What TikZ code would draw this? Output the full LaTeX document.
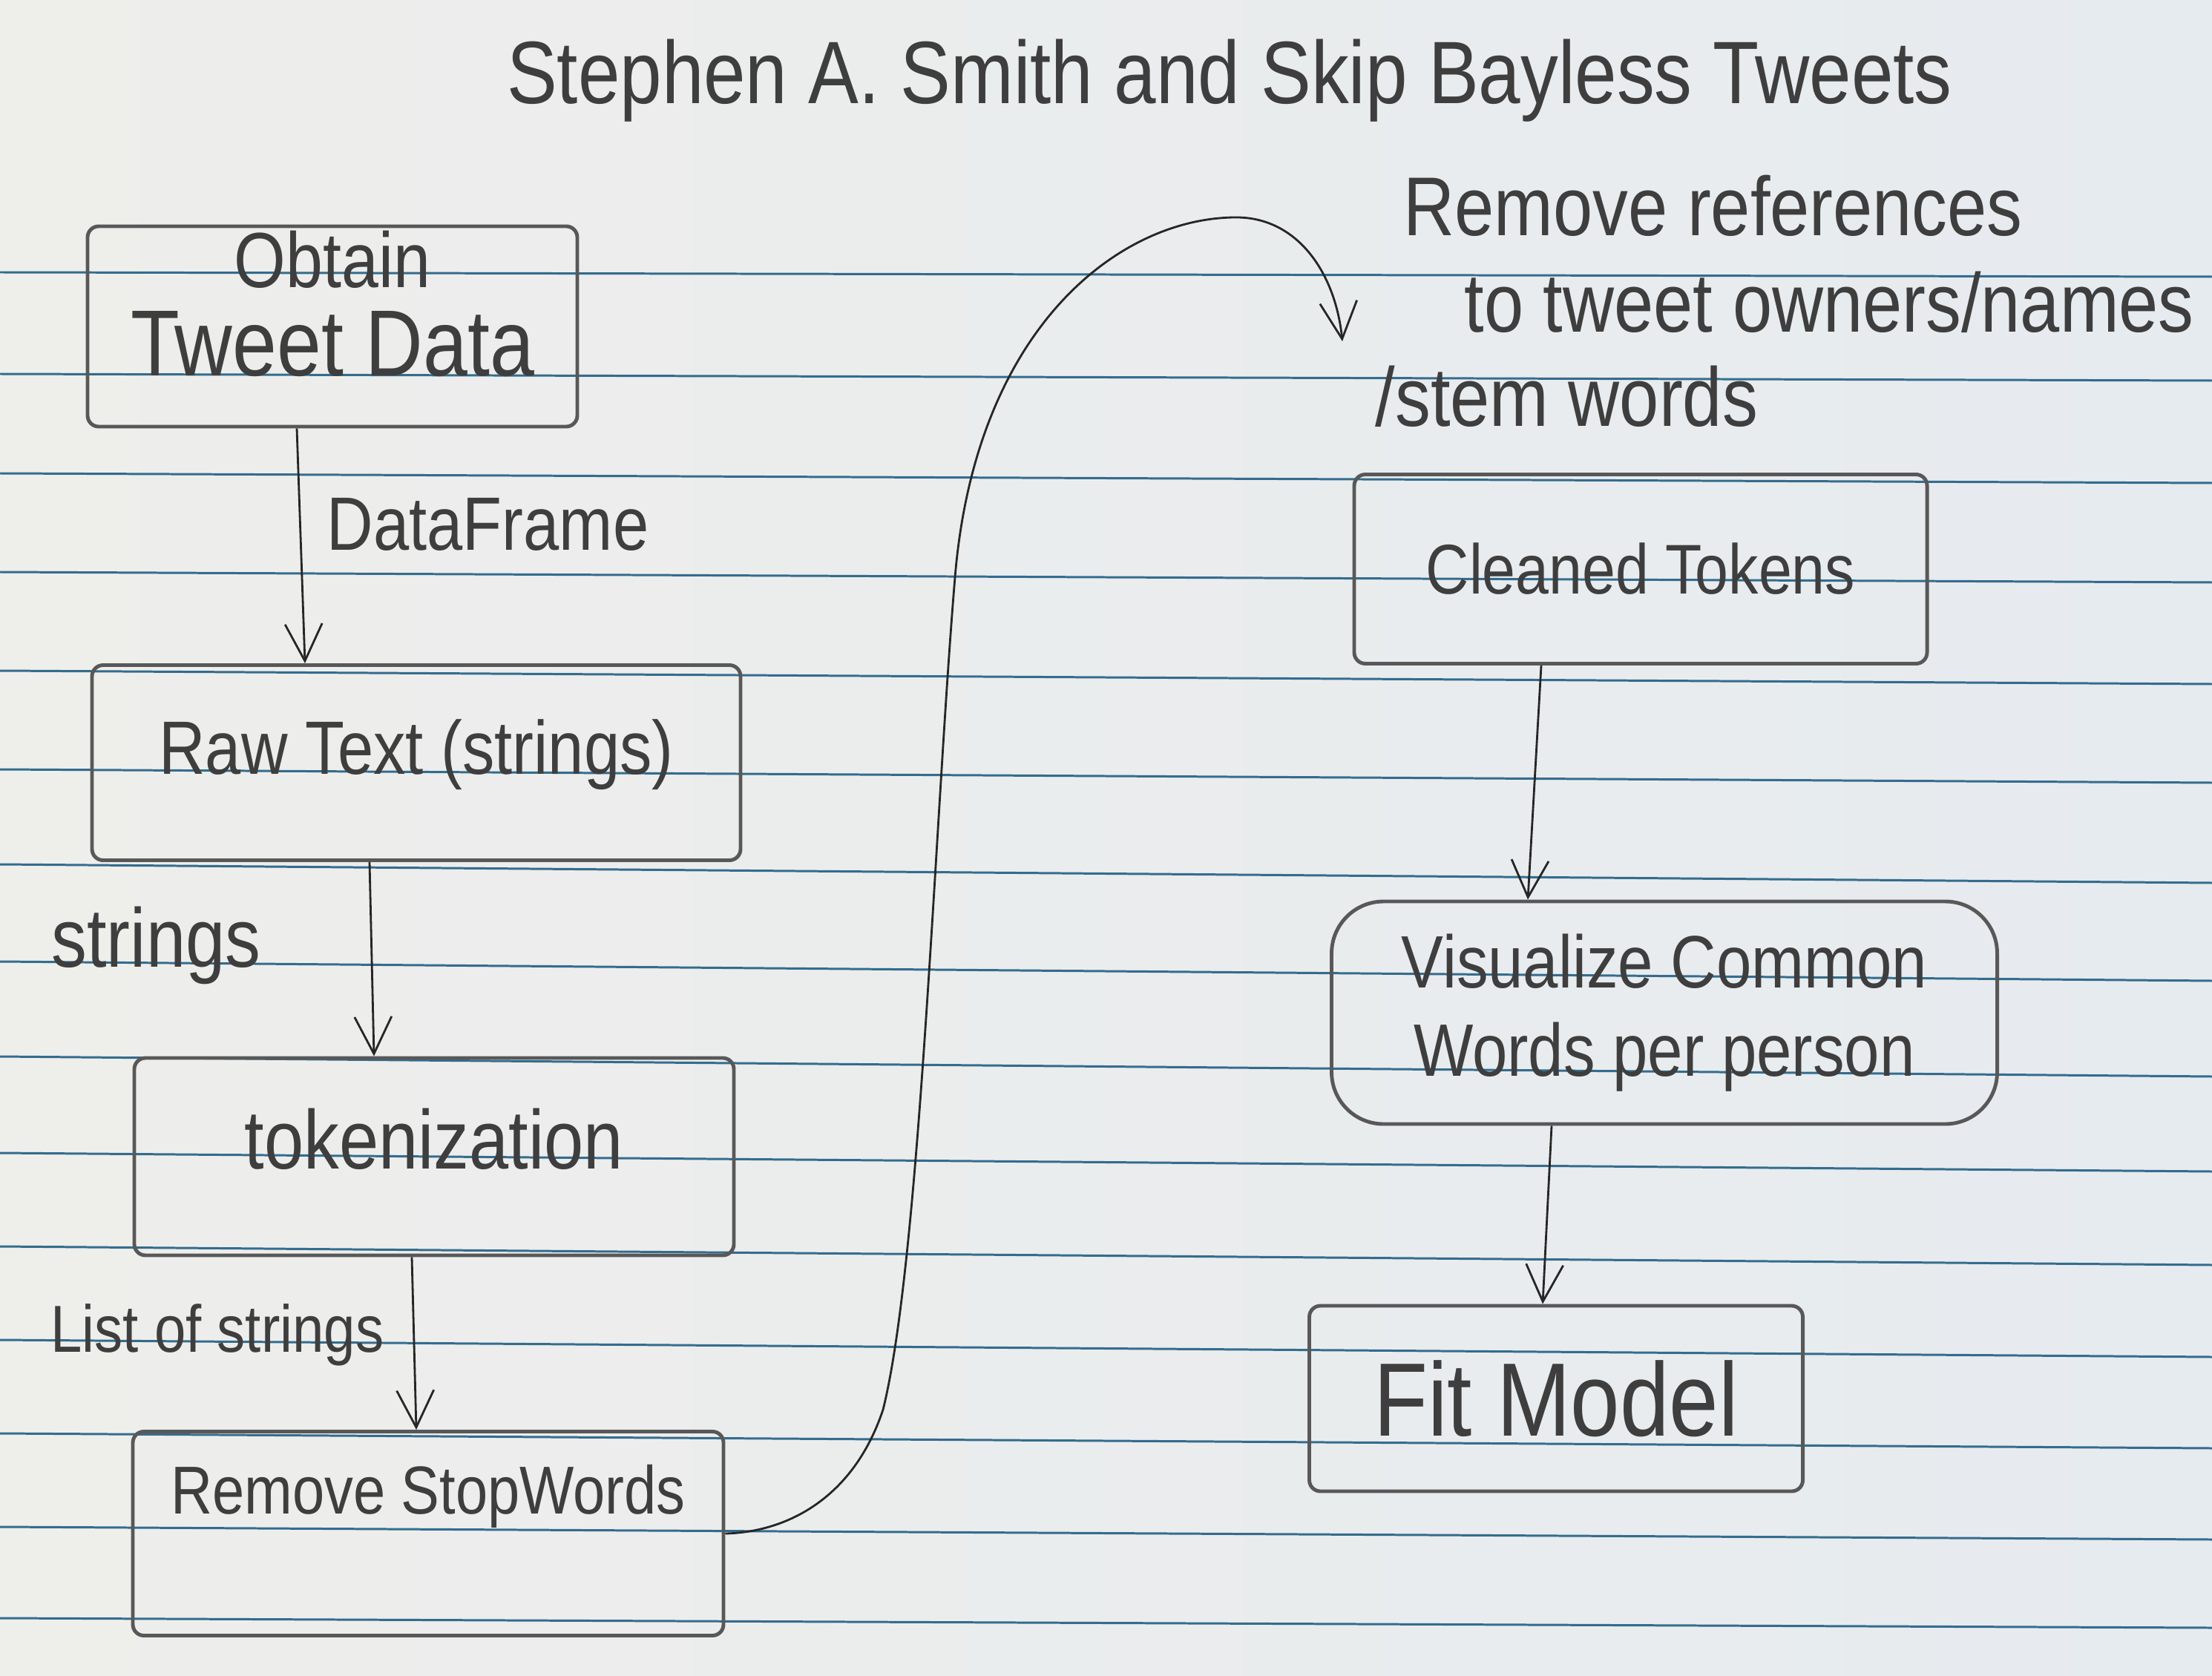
\documentclass[tikz,border=0pt]{standalone}
\usepackage{fontspec}
\setmainfont[FakeStretch=0.85]{Liberation Sans}
\usetikzlibrary{positioning,calc}
\usetikzlibrary{arrows.meta}
\definecolor{PaperL}{RGB}{238,238,235}
\definecolor{PaperR}{RGB}{230,235,239}
\definecolor{RuleBlue}{RGB}{52,108,142}
\definecolor{Pencil}{RGB}{62,62,62}
\definecolor{Lead}{RGB}{88,88,88}
\newcommand{\handsz}[2]{\fontsize{#1pt}{#2pt}\selectfont}
\tikzset{
	box/.style={draw=Lead,line width=1.4pt,text=Pencil,inner sep=4pt,align=center,rounded corners=1.5mm},
	flow/.style={draw=black!85,line width=0.8pt,-{Straight Barb[length=5mm,width=5mm]}},
	note/.style={text=Pencil,inner sep=0pt},
	rule/.style={draw=RuleBlue,line width=0.85pt},
}

\begin{document}
\begin{tikzpicture}[x=1mm,y=-1mm]
	\useasboundingbox (0,0) rectangle (298.1,225.9);
	\shade[left color=PaperL,right color=PaperR] (0,0) rectangle (298.1,225.9);
	\foreach \l/\r in {36.7/37.3,50.4/51.3,63.8/65.1,77.1/78.5,90.4/92.2,103.7/105.5,116.5/119.0,129.6/132.2,
		142.4/145.1,155.4/157.9,168.0/170.5,180.6/182.9,193.2/195.2,205.8/207.5,218.1/219.4}
	\draw[rule] (0,\l) -- (298.1,\r);
	% title
	\node[note,anchor=base,font={\handsz{34}{40}}] (title) at (165.7,14.0) {Stephen A. Smith and Skip Bayless Tweets};
	% left column
	\node[box,minimum width=66mm,minimum height=27mm,font={\handsz{36}{34}},text height=52pt,text depth=14pt] (obtain) at (44.8,44.0) {{\handsz{30}{34}Obtain}\\Tweet Data};
	\node[box,minimum width=87.4mm,minimum height=26.3mm,font={\handsz{29}{34}},text depth=12pt] (raw) at (56.1,102.8) {Raw Text (strings)};
	\node[box,minimum width=80.8mm,minimum height=26.6mm,font={\handsz{32}{38}},text depth=14pt] (tok) at (58.5,155.9) {tokenization};
	\node[box,minimum width=79.6mm,minimum height=27.5mm,font={\handsz{26}{30}},text depth=34pt] (stop) at (57.7,206.7) {Remove StopWords};
	\draw[flow] ([xshift=-4.8mm]obtain.south) -- node[note,right=3.5mm,pos=0.41,font={\handsz{29}{34}}] (lblDF) {DataFrame} ([xshift=-15mm]raw.north);
	\draw[flow] ([xshift=-6.3mm]raw.south) -- node[note,left=14.8mm,pos=0.43,font={\handsz{32}{38}}] (lblStr) {strings} ([xshift=-8.1mm]tok.north);
	\draw[flow] ([xshift=-3mm]tok.south) -- node[note,left=3.9mm,pos=0.45,font={\handsz{25.5}{30}}] (lblList) {List of strings} ([xshift=-1.6mm]stop.north);
	% right column
	\node[note,anchor=base west,font={\handsz{32}{38}}] (refsA) at (189.1,31.8) {Remove references};
	\node[note,anchor=base west,font={\handsz{32}{38}}] (refsB) at (197.3,44.8) {to tweet owners/names};
	\node[note,anchor=base west,font={\handsz{32}{38}}] (refsC) at (185.3,57.5) {/stem words};
	\coordinate (refsin) at (180.9,46.0);
	\node[box,minimum width=77.2mm,minimum height=25.5mm,font={\handsz{27}{32}}] (clean) at (221.1,76.7) {Cleaned Tokens};
	\node[box,minimum width=89.7mm,minimum height=30mm,font={\handsz{28.5}{34}},rounded corners=7mm] (vis) at (224.3,136.5) {Visualize Common\\Words per person};
	\node[box,minimum width=66.5mm,minimum height=25mm,font={\handsz{40}{46}}] (fit) at (209.7,188.5) {Fit Model};
	\draw[flow] ([xshift=-13.4mm]clean.south) -- ([xshift=-18.4mm]vis.north);
	\draw[flow] ([xshift=-15.2mm]vis.south) -- ([xshift=-1.8mm]fit.north);
	% long hop over to the cleaning step
	\draw[flow] (stop.east) .. controls (106,206.5) and (115,202) .. (119,190)
		.. controls (124,170) and (126,110) .. (128.7,77.8)
		.. controls (131.5,44) and (151,29.3) .. (166.6,29.3)
		.. controls (175,29.3) and (180,37) .. (refsin);
\end{tikzpicture}
\end{document}
